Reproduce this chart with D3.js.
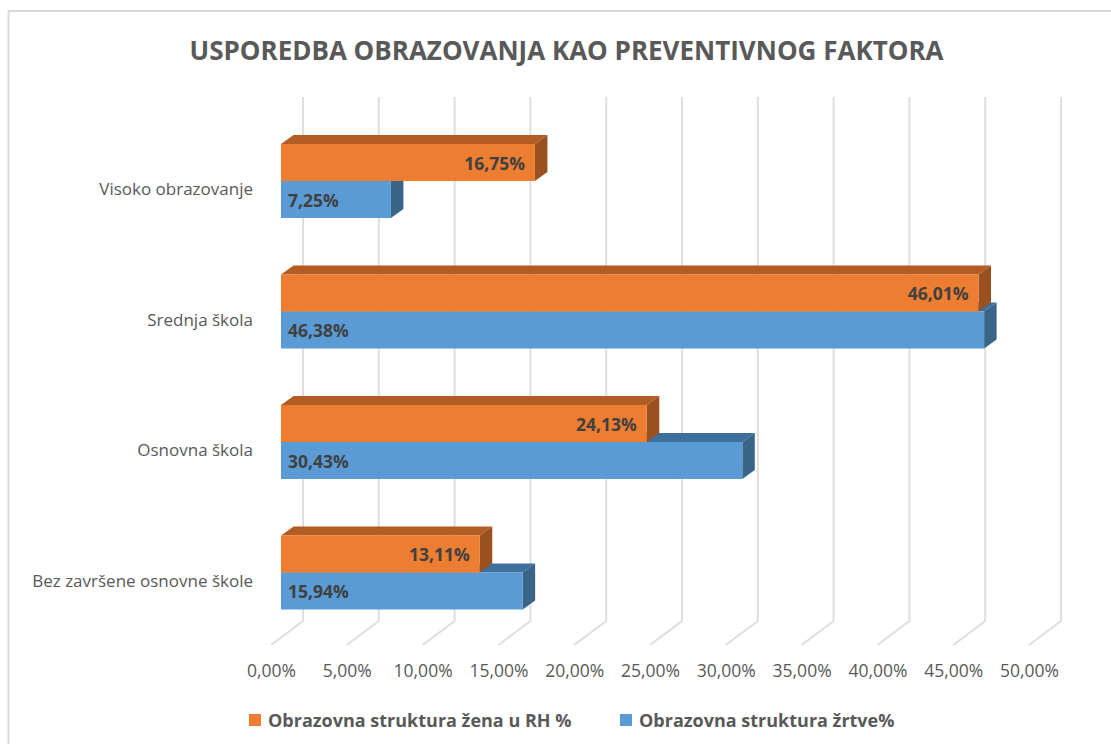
<!DOCTYPE html>
<html>
<head>
<meta charset="utf-8">
<script src="https://cdnjs.cloudflare.com/ajax/libs/d3/7.8.5/d3.min.js"></script>
<style>
  html, body { margin: 0; padding: 0; background: #fff; }
  svg { display: block; font-family: "Open Sans", sans-serif; }
</style>
</head>
<body>
<div id="vis"></div>
<script>
const categories = ["Visoko obrazovanje", "Srednja škola", "Osnovna škola", "Bez završene osnovne škole"]
const zeneValues = [16.75, 46.01, 24.13, 13.11]
const zrtveValues = [7.25, 46.38, 30.43, 15.94]
const xTicks = [0, 5, 10, 15, 20, 25, 30, 35, 40, 45, 50]
const seriesNames = ["Obrazovna struktura žena u RH %", "Obrazovna struktura žrtve%"]

const width = 1111, height = 744
const depthX = 32, depthY = -24     // floor depth of the whole plot
const barDX = 12.5, barDY = -9      // depth of a single bar
const barH = 37

let svg = d3.select("#vis").append("svg")
    .attr("width", width)
    .attr("height", height)

let fmt = v => v.toFixed(2).replace(".", ",") + "%"

let x = d3.scaleLinear().domain([0, 50]).range([281, 1039])
let y = d3.scalePoint().domain(categories).range([181, 572.5])

// chart frame
svg.append("path")
    .attr("d", "M8.5,744V11H1111")
    .attr("fill", "none")
    .attr("stroke", "#d9d9d9")
    .attr("stroke-width", 2)

// title
svg.append("text")
    .attr("x", 566.5)
    .attr("y", 60)
    .attr("text-anchor", "middle")
    .attr("font-size", 26)
    .attr("font-weight", 700)
    .attr("fill", "#595959")
    .text("USPOREDBA OBRAZOVANJA KAO PREVENTIVNOG FAKTORA")

// back wall gridlines and floor
let floorY = 645
let grid = svg.append("g")
xTicks.forEach(t => {
    let fx = x(t) - 10
    grid.append("path")
        .attr("d", `M${fx},${floorY}L${fx + depthX},${floorY + depthY}V97`)
        .attr("fill", "none")
        .attr("stroke", "#dedede")
        .attr("stroke-width", 2)
})

// tick labels
svg.append("g").selectAll("text")
    .data(xTicks)
    .join("text")
    .attr("x", d => x(d) - 9.5)
    .attr("y", 677)
    .attr("text-anchor", "middle")
    .attr("font-size", 17.5)
    .attr("fill", "#595959")
    .text(d => fmt(d))

// category labels
svg.append("g").selectAll("text")
    .data(categories)
    .join("text")
    .attr("x", 253)
    .attr("y", d => y(d) + 14)
    .attr("text-anchor", "end")
    .attr("font-size", 17)
    .attr("fill", "#595959")
    .text(d => d)

function drawBar(g, value, top, front, sideCol, topCol, labelX, anchor, label) {
    let x0 = x(0), x1 = x(value)
    g.append("path")
        .attr("d", `M${x0},${top}L${x0 + barDX},${top + barDY}H${x1 + barDX}L${x1},${top}Z`)
        .attr("fill", topCol)
    g.append("path")
        .attr("d", `M${x1},${top}L${x1 + barDX},${top + barDY}V${top + barH + barDY}L${x1},${top + barH}Z`)
        .attr("fill", sideCol)
    g.append("rect")
        .attr("x", x0)
        .attr("y", top)
        .attr("width", x1 - x0)
        .attr("height", barH)
        .attr("fill", front)
    g.append("text")
        .attr("x", labelX)
        .attr("y", top + 25.5)
        .attr("text-anchor", anchor)
        .attr("font-size", 17.5)
        .attr("font-weight", 700)
        .attr("fill", "#404040")
        .text(label)
}

// blue goes first so the orange side sits on top of it
let bars = svg.append("g")
categories.forEach((c, i) => {
    drawBar(bars, zrtveValues[i], y(c), "#5b9bd5", "#3a6589", "#3f6f9b",
        x(0) + 7, "start", fmt(zrtveValues[i]))
})
categories.forEach((c, i) => {
    drawBar(bars, zeneValues[i], y(c) - barH, "#ed7d31", "#9a501f", "#b35d24",
        x(zeneValues[i]) - 10, "end", fmt(zeneValues[i]))
})

// legend
let legendX = [249, 620]
seriesNames.forEach((name, i) => {
    svg.append("rect")
        .attr("x", legendX[i])
        .attr("y", 714)
        .attr("width", 12)
        .attr("height", 12)
        .attr("fill", i == 0 ? "#ed7d31" : "#5b9bd5")
    svg.append("text")
        .attr("x", legendX[i] + 19)
        .attr("y", 727)
        .attr("font-size", 18)
        .attr("font-weight", 700)
        .attr("fill", "#595959")
        .text(name)
})
</script>
</body>
</html>
